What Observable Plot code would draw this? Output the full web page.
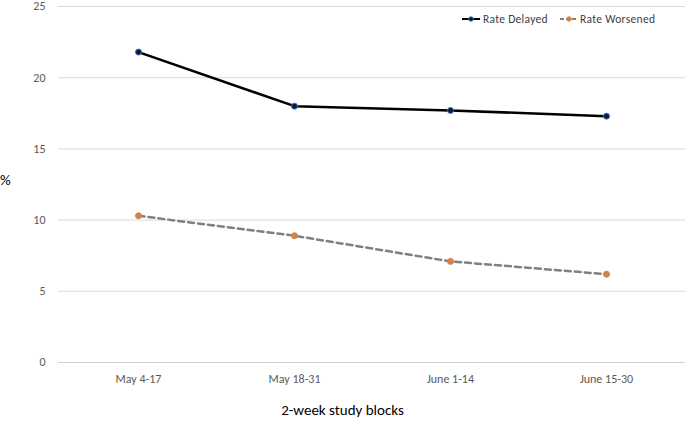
<!DOCTYPE html>
<html>
<head>
<meta charset="utf-8">
<script src="https://cdn.jsdelivr.net/npm/d3@7"></script>
<script src="https://cdn.jsdelivr.net/npm/@observablehq/plot@0.6"></script>
<style>
  body { margin: 0; background: #fff; font-family: Carlito, Lato, sans-serif; }
  #wrap { position: relative; width: 685px; height: 422px; }
  #pct { position: absolute; left: 0px; top: 171px; font-size: 15px; color: #000; }
  #xtitle { position: absolute; left: 0; top: 400px; width: 685px; text-align: center; font-size: 15px; line-height: 20px; color: #000; }
  .leg-text { position: absolute; top: 12px; font-size: 11.5px; line-height: 14px; letter-spacing: 0.3px; color: #404040; white-space: nowrap; }
  .leg-sw { position: absolute; top: 15px; }
</style>
</head>
<body>
<div id="wrap">
  <div id="chart"></div>
  <div id="pct">%</div>
  <div id="xtitle">2-week study blocks</div>
</div>
<script>
const periods = ["May 4-17", "May 18-31", "June 1-14", "June 15-30"];
const rateDelayed = [21.8, 18.0, 17.7, 17.3];
const rateWorsened = [10.3, 8.9, 7.1, 6.2];
const yTicks = [0, 5, 10, 15, 20, 25];
const seriesNames = ["Rate Delayed", "Rate Worsened"];

const delayedData = periods.map((p, i) => ({period: p, value: rateDelayed[i]}));
const worsenedData = periods.map((p, i) => ({period: p, value: rateWorsened[i]}));

const chart = Plot.plot({
  width: 685,
  height: 392,
  marginTop: 6,
  marginBottom: 30,
  marginLeft: 58,
  marginRight: 0,
  style: {fontFamily: "Carlito, Lato, sans-serif", background: "#fff"},
  x: {type: "point", domain: periods, padding: 0.5, label: null},
  y: {domain: [0, 25], label: null},
  marks: [
    Plot.gridY(yTicks, {stroke: "#d9d9d9", strokeOpacity: 1, strokeWidth: 1}),
    Plot.ruleY([0], {stroke: "#d0d0d0", strokeWidth: 1}),
    Plot.axisY(yTicks, {tickSize: 0, tickPadding: 13, fontSize: 12, color: "#595959", label: null}),
    Plot.axisX({tickSize: 0, tickPadding: 12, fontSize: 12, color: "#595959", label: null}),
    Plot.line(delayedData, {x: "period", y: "value", stroke: "#000", strokeWidth: 2.5}),
    Plot.line(worsenedData, {x: "period", y: "value", stroke: "#808080", strokeWidth: 2.5, strokeDasharray: "6,4"}),
    Plot.dot(delayedData, {x: "period", y: "value", r: 3, fill: "#0d1a3a", stroke: "#4472c4", strokeWidth: 1}),
    Plot.dot(worsenedData, {x: "period", y: "value", r: 3, fill: "#c98453", stroke: "#ed7d31", strokeWidth: 1})
  ]
});
document.getElementById("chart").appendChild(chart);

const wrap = document.getElementById("wrap");
const legendItems = [
  {swLeft: 461, textLeft: 483, stroke: "#000", dash: null, fill: "#0d1a3a", ring: "#4472c4"},
  {swLeft: 559, textLeft: 580, stroke: "#808080", dash: "4,2", fill: "#c98453", ring: "#ed7d31"}
];
seriesNames.forEach((name, i) => {
  const s = legendItems[i];
  const sw = document.createElement("div");
  sw.className = "leg-sw";
  sw.style.left = s.swLeft + "px";
  sw.innerHTML = `<svg width="20" height="8" style="display:block"><line x1="1" x2="19" y1="4" y2="4" stroke="${s.stroke}" stroke-width="2" ${s.dash ? `stroke-dasharray="${s.dash}"` : ""}></line><circle cx="10" cy="4" r="2.3" fill="${s.fill}" stroke="${s.ring}" stroke-width="0.8"></circle></svg>`;
  wrap.appendChild(sw);
  const t = document.createElement("div");
  t.className = "leg-text";
  t.style.left = s.textLeft + "px";
  t.textContent = name;
  wrap.appendChild(t);
});
</script>
</body>
</html>
